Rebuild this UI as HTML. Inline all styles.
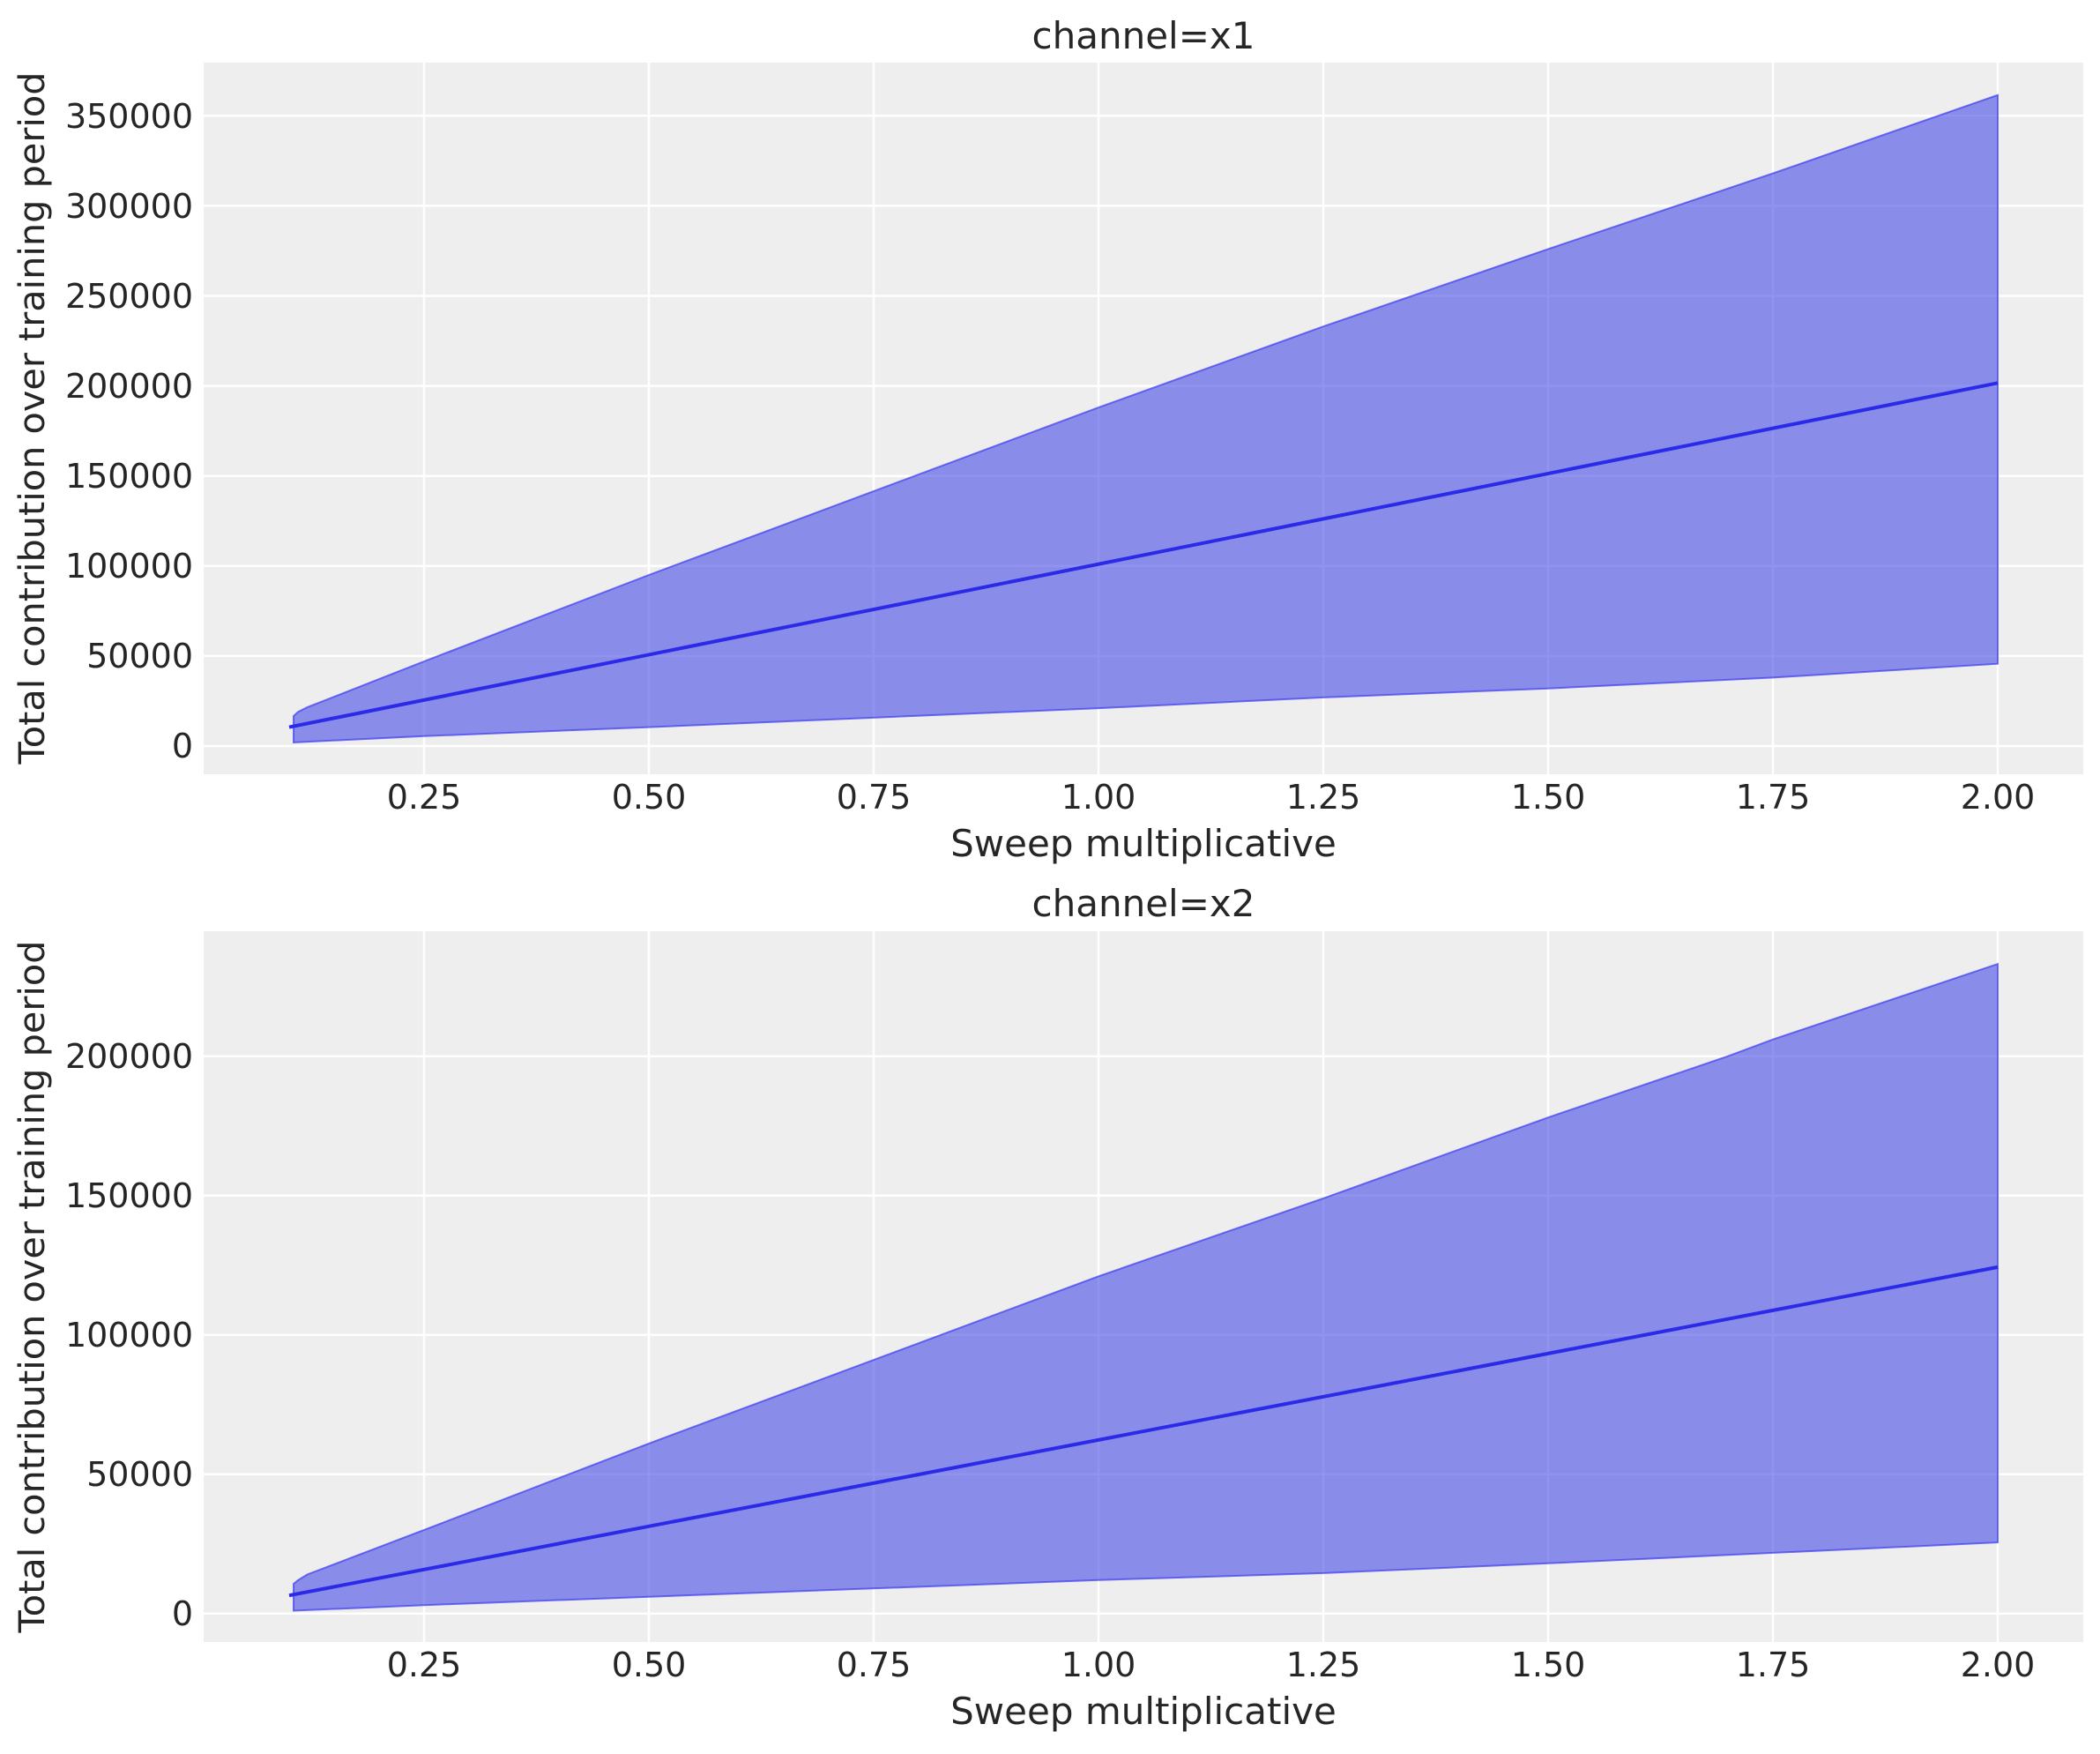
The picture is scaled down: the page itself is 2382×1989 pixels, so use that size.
<!DOCTYPE html>
<html><head><meta charset="utf-8"><style>html,body{margin:0;padding:0;background:#fff}</style></head>
<body>
<svg width="2382" height="1984" xmlns="http://www.w3.org/2000/svg" font-family="'DejaVu Sans','Liberation Sans',sans-serif" fill="#262626">
<!-- Panel 1 -->
<rect x="231" y="71" width="2132" height="807" fill="#eeeeee"/>
<g stroke="#ffffff" stroke-width="2.5">
<line x1="231" x2="2363" y1="846" y2="846"/><line x1="231" x2="2363" y1="743.9" y2="743.9"/><line x1="231" x2="2363" y1="641.8" y2="641.8"/><line x1="231" x2="2363" y1="539.7" y2="539.7"/><line x1="231" x2="2363" y1="437.6" y2="437.6"/><line x1="231" x2="2363" y1="335.5" y2="335.5"/><line x1="231" x2="2363" y1="233.4" y2="233.4"/><line x1="231" x2="2363" y1="131.3" y2="131.3"/>
<line y1="71" y2="878" x1="481" x2="481"/><line y1="71" y2="878" x1="736" x2="736"/><line y1="71" y2="878" x1="991" x2="991"/><line y1="71" y2="878" x1="1246" x2="1246"/><line y1="71" y2="878" x1="1501" x2="1501"/><line y1="71" y2="878" x1="1756" x2="1756"/><line y1="71" y2="878" x1="2011" x2="2011"/><line y1="71" y2="878" x1="2266" x2="2266"/>
</g>
<polygon points="333,812 338.2,807.2 348.4,802.1 481,750 736,652 1246,462.1 1501,370.2 1756,282.4 2011,196.6 2266,107.8 2266,752.7 2011,768.4 1756,780.7 1501,790.9 1246,803.1 736,824.6 481,834.8 333,841.9" fill="rgba(70,75,230,0.6)" stroke="rgba(60,60,240,0.7)" stroke-width="2"/>
<line x1="328" y1="824.6" x2="2266" y2="434.3" stroke="#2a2ae8" stroke-width="4"/>
<g font-size="38" text-anchor="end">
<text x="219" y="859">0</text><text x="219" y="757">50000</text><text x="219" y="655">100000</text><text x="219" y="553">150000</text><text x="219" y="451">200000</text><text x="219" y="349">250000</text><text x="219" y="247">300000</text><text x="219" y="145">350000</text>
</g>
<g font-size="38" text-anchor="middle">
<text x="481" y="917">0.25</text><text x="736" y="917">0.50</text><text x="991" y="917">0.75</text><text x="1246" y="917">1.00</text><text x="1501" y="917">1.25</text><text x="1756" y="917">1.50</text><text x="2011" y="917">1.75</text><text x="2266" y="917">2.00</text>
<text x="1297" y="971" font-size="42">Sweep multiplicative</text>
<text x="1297" y="55" font-size="42">channel=x1</text>
<text transform="translate(50,474) rotate(-90)" font-size="40" textLength="785" lengthAdjust="spacingAndGlyphs">Total contribution over training period</text>
</g>
<!-- Panel 2 -->
<rect x="231" y="1056" width="2132" height="806" fill="#eeeeee"/>
<g stroke="#ffffff" stroke-width="2.5">
<line x1="231" x2="2363" y1="1829.7" y2="1829.7"/><line x1="231" x2="2363" y1="1671.7" y2="1671.7"/><line x1="231" x2="2363" y1="1513.7" y2="1513.7"/><line x1="231" x2="2363" y1="1355.7" y2="1355.7"/><line x1="231" x2="2363" y1="1197.7" y2="1197.7"/>
<line y1="1056" y2="1862" x1="481" x2="481"/><line y1="1056" y2="1862" x1="736" x2="736"/><line y1="1056" y2="1862" x1="991" x2="991"/><line y1="1056" y2="1862" x1="1246" x2="1246"/><line y1="1056" y2="1862" x1="1501" x2="1501"/><line y1="1056" y2="1862" x1="1756" x2="1756"/><line y1="1056" y2="1862" x1="2011" x2="2011"/><line y1="1056" y2="1862" x1="2266" x2="2266"/>
</g>
<polygon points="333,1796 338.2,1791.8 348.4,1785.5 481,1734.9 736,1636.9 1246,1447.3 1501,1358.9 1756,1267.2 1960,1197.7 2011,1178.7 2266,1093.1 2266,1749.1 1960,1763.3 1756,1772.8 1501,1783.9 1246,1791.8 736,1810.7 481,1820.2 333,1826.5" fill="rgba(70,75,230,0.6)" stroke="rgba(60,60,240,0.7)" stroke-width="2"/>
<line x1="328" y1="1809.2" x2="2266" y2="1436.9" stroke="#2a2ae8" stroke-width="4"/>
<g font-size="38" text-anchor="end">
<text x="219" y="1843">0</text><text x="219" y="1685">50000</text><text x="219" y="1527">100000</text><text x="219" y="1369">150000</text><text x="219" y="1211">200000</text>
</g>
<g font-size="38" text-anchor="middle">
<text x="481" y="1901">0.25</text><text x="736" y="1901">0.50</text><text x="991" y="1901">0.75</text><text x="1246" y="1901">1.00</text><text x="1501" y="1901">1.25</text><text x="1756" y="1901">1.50</text><text x="2011" y="1901">1.75</text><text x="2266" y="1901">2.00</text>
<text x="1297" y="1955" font-size="42">Sweep multiplicative</text>
<text x="1297" y="1039" font-size="42">channel=x2</text>
<text transform="translate(50,1459) rotate(-90)" font-size="40" textLength="785" lengthAdjust="spacingAndGlyphs">Total contribution over training period</text>
</g>
</svg>
</body></html>
